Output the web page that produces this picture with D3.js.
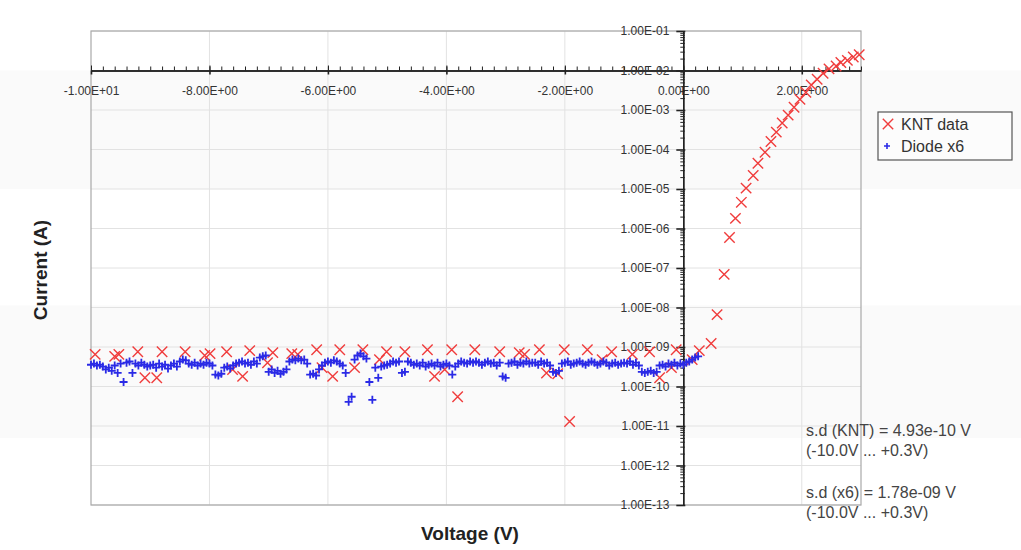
<!DOCTYPE html>
<html>
  <head>
    <meta charset="utf-8">
    <title>KNT I-V</title>
    <style>
    body { margin: 0; background: #fff; }
    svg { display: block; font-family: "Liberation Sans", Arial, sans-serif; }
    .tick text { fill: #333; font-size: 12px; }
    .axis path, .axis line { stroke: #222; }
    .grid line { stroke: #e2e2e2; }
    </style>
  </head>
  <body>
    <svg width="1021" height="550"></svg>
    <script src="https://d3js.org/d3.v7.min.js"></script>
    <script>

      // KNT data (red X)
      var kntV = [-9.93,-9.60,-9.53,-9.21,-9.09,-8.89,-8.80,-8.41,-8.08,-7.99,
        -7.71,-7.61,-7.44,-7.32,-7.02,-6.93,-6.61,-6.51,-6.19,-6.10,
        -5.92,-5.80,-5.55,-5.41,-5.13,-5.01,-4.70,-4.32,-4.20,-4.03,
        -3.91,-3.81,-3.52,-3.10,-2.77,-2.68,-2.43,-2.31,-2.12,-2.01,
        -1.92,-1.62,-1.37,-1.21,-0.86,-0.57,-0.40,-0.20,-0.12,0.15,
        0.27,0.47,0.57,0.69,0.78,0.88,0.98,1.06,1.18,1.26,
        1.38,1.48,1.57,1.67,1.77,1.87,1.97,2.07,2.16,2.26,
        2.36,2.46,2.58,2.66,2.77,2.87,2.97];
      var kntI = [6.5e-10,5.8e-10,6.5e-10,7.6e-10,1.66e-10,1.66e-10,7.6e-10,7.6e-10,6.1e-10,6.8e-10,
        7.6e-10,2.7e-10,1.8e-10,8.1e-10,4.0e-10,7.2e-10,6.8e-10,6.5e-10,8.5e-10,3.0e-10,
        1.8e-10,8.5e-10,3.0e-10,8.5e-10,4.8e-10,7.6e-10,7.6e-10,8.5e-10,1.8e-10,2.7e-10,
        8.5e-10,5.5e-11,8.5e-10,7.6e-10,7.2e-10,6.5e-10,8.5e-10,2.2e-10,2.1e-10,8.5e-10,
        1.3e-11,8.5e-10,4.8e-10,7.6e-10,6.5e-10,7.6e-10,1.66e-10,3.0e-10,8.5e-10,4.8e-10,
        8.1e-10,1.23e-9,6.6e-9,6.9e-8,5.9e-7,1.8e-6,4.6e-6,1.05e-5,2.2e-5,4.5e-5,
        8.5e-5,1.6e-4,2.75e-4,4.7e-4,7.4e-4,1.17e-3,1.86e-3,2.8e-3,4.3e-3,6.0e-3,
        8.5e-3,1.1e-2,1.3e-2,1.6e-2,1.8e-2,2.2e-2,2.5e-2];

      // Diode x6 (blue +)
      var diodeV = [-10,-9.95,-9.9,-9.85,-9.8,-9.75,-9.7,-9.65,-9.6,-9.55,
        -9.5,-9.45,-9.4,-9.35,-9.3,-9.25,-9.2,-9.15,-9.1,-9.05,
        -9,-8.95,-8.9,-8.85,-8.8,-8.75,-8.7,-8.65,-8.6,-8.55,
        -8.5,-8.45,-8.4,-8.35,-8.3,-8.25,-8.2,-8.15,-8.1,-8.05,
        -8,-7.95,-7.9,-7.85,-7.8,-7.75,-7.7,-7.65,-7.6,-7.55,
        -7.5,-7.45,-7.4,-7.35,-7.3,-7.25,-7.2,-7.15,-7.1,-7.05,
        -7,-6.95,-6.9,-6.85,-6.8,-6.75,-6.7,-6.65,-6.6,-6.55,
        -6.5,-6.45,-6.4,-6.35,-6.3,-6.25,-6.2,-6.15,-6.1,-6.05,
        -6,-5.95,-5.9,-5.85,-5.8,-5.75,-5.7,-5.65,-5.6,-5.55,
        -5.5,-5.45,-5.4,-5.35,-5.3,-5.25,-5.2,-5.15,-5.1,-5.05,
        -5,-4.95,-4.9,-4.85,-4.8,-4.75,-4.7,-4.65,-4.6,-4.55,
        -4.5,-4.45,-4.4,-4.35,-4.3,-4.25,-4.2,-4.15,-4.1,-4.05,
        -4,-3.95,-3.9,-3.85,-3.8,-3.75,-3.7,-3.65,-3.6,-3.55,
        -3.5,-3.45,-3.4,-3.35,-3.3,-3.25,-3.2,-3.15,-3.1,-3.05,
        -3,-2.95,-2.9,-2.85,-2.8,-2.75,-2.7,-2.65,-2.6,-2.55,
        -2.5,-2.45,-2.4,-2.35,-2.3,-2.25,-2.2,-2.15,-2.1,-2.05,
        -2,-1.95,-1.9,-1.85,-1.8,-1.75,-1.7,-1.65,-1.6,-1.55,
        -1.5,-1.45,-1.4,-1.35,-1.3,-1.25,-1.2,-1.15,-1.1,-1.05,
        -1,-0.95,-0.9,-0.85,-0.8,-0.75,-0.7,-0.65,-0.6,-0.55,
        -0.5,-0.45,-0.4,-0.35,-0.3,-0.25,-0.2,-0.15,-0.1,-0.05,
        0,0.05,0.1,0.15,0.2,0.25];
      var diodeI = [3.55e-10,3.8e-10,3.4e-10,3.55e-10,3.2e-10,2.7e-10,3.0e-10,2.5e-10,3.4e-10,2.2e-10,
        3.8e-10,1.3e-10,4.0e-10,4.3e-10,2.2e-10,3.8e-10,3.4e-10,4.0e-10,3.55e-10,3.2e-10,
        3.4e-10,3.55e-10,3.0e-10,3.8e-10,3.2e-10,3.55e-10,2.85e-10,3.4e-10,3.8e-10,3.2e-10,
        4.3e-10,4.8e-10,4.6e-10,3.8e-10,3.55e-10,4.0e-10,3.4e-10,3.8e-10,3.55e-10,4.0e-10,
        3.8e-10,3.4e-10,2.0e-10,1.9e-10,2.1e-10,3.0e-10,3.2e-10,2.85e-10,3.4e-10,3.8e-10,
        4.0e-10,4.3e-10,3.8e-10,4.0e-10,3.55e-10,4.3e-10,3.8e-10,5.4e-10,5.8e-10,6.1e-10,
        2.35e-10,2.7e-10,2.2e-10,2.5e-10,2.1e-10,2.35e-10,2.7e-10,4.3e-10,4.8e-10,4.6e-10,
        5.1e-10,4.6e-10,4.8e-10,3.8e-10,2.0e-10,2.1e-10,1.9e-10,2.7e-10,3.4e-10,4.0e-10,
        4.3e-10,4.0e-10,4.6e-10,4.3e-10,3.8e-10,3.4e-10,2.2e-10,4.1e-11,5.5e-11,4.8e-10,
        6.1e-10,6.8e-10,5.8e-10,5.1e-10,1.3e-10,4.6e-11,3.0e-10,1.66e-10,3.2e-10,3.4e-10,
        3.55e-10,3.8e-10,4.3e-10,4.0e-10,4.3e-10,2.2e-10,2.35e-10,4.3e-10,4.0e-10,3.55e-10,
        3.8e-10,3.4e-10,4.0e-10,3.2e-10,3.55e-10,3.8e-10,3.4e-10,4.0e-10,3.2e-10,3.55e-10,
        3.8e-10,3.4e-10,2.0e-10,3.2e-10,3.8e-10,4.3e-10,4.0e-10,3.8e-10,4.3e-10,4.0e-10,
        4.3e-10,4.0e-10,3.55e-10,4.0e-10,4.3e-10,3.8e-10,4.0e-10,3.4e-10,4.0e-10,1.8e-10,
        1.66e-10,3.8e-10,4.0e-10,4.3e-10,3.55e-10,4.0e-10,3.8e-10,4.3e-10,3.8e-10,4.0e-10,
        4.0e-10,3.55e-10,4.3e-10,3.8e-10,4.0e-10,3.4e-10,2.35e-10,2.2e-10,2.5e-10,3.8e-10,
        4.0e-10,4.3e-10,3.55e-10,3.8e-10,4.0e-10,4.3e-10,3.8e-10,3.55e-10,4.0e-10,4.3e-10,
        4.0e-10,3.55e-10,3.8e-10,4.3e-10,4.0e-10,3.4e-10,3.8e-10,4.0e-10,3.55e-10,3.8e-10,
        4.0e-10,3.8e-10,4.3e-10,3.55e-10,4.0e-10,3.4e-10,2.35e-10,2.2e-10,2.35e-10,2.5e-10,
        2.2e-10,2.35e-10,3.4e-10,3.55e-10,3.2e-10,3.8e-10,3.55e-10,4.0e-10,3.4e-10,3.8e-10,
        3.55e-10,4.0e-10,4.3e-10,4.8e-10,5.4e-10,5.8e-10];

      var xTicks = [-10, -8, -6, -4, -2, 0, 2];
      var yTicks = [1e-13,1e-12,1e-11,1e-10,1e-9,1e-8,1e-7,1e-6,1e-5,1e-4,1e-3,1e-2,1e-1];
      var legendNames = ["KNT data", "Diode x6"];
      var notes = ["s.d (KNT) = 4.93e-10 V", "(-10.0V ... +0.3V)", "s.d (x6) = 1.78e-09 V", "(-10.0V ... +0.3V)"];

      var svg = d3.select("svg"),
          plotL = 91, plotR = 861, plotT = 31, plotB = 505;

      var x = d3.scaleLinear().domain([-10, 3]).range([plotL, plotR]),
          y = d3.scaleLog().domain([1e-13, 1e-1]).range([plotB, plotT]);

      function sci(v) {
        var s = v.toExponential(2).toUpperCase();
        return s.replace(/E([+-])(\d)$/, "E$10$2");
      }

      // very faint horizontal bands behind everything
      svg.append("rect").attr("x", 0).attr("width", 1021)
          .attr("y", y(1e-2)).attr("height", y(1e-5) - y(1e-2)).attr("fill", "#fafafa");
      svg.append("rect").attr("x", 0).attr("width", 1021)
          .attr("y", y(1e-8) - 2).attr("height", y(1e-11) - y(1e-8) + 14).attr("fill", "#fafafa");

      // grid
      var grid = svg.append("g").attr("class", "grid");
      grid.selectAll(".gx").data(xTicks.filter(function(d) { return d !== 0 && d !== -10; }))
        .enter().append("line")
          .attr("x1", function(d) { return x(d); }).attr("x2", function(d) { return x(d); })
          .attr("y1", plotT).attr("y2", plotB);
      grid.selectAll(".gy").data(yTicks)
        .enter().append("line")
          .attr("x1", plotL).attr("x2", plotR)
          .attr("y1", function(d) { return y(d); }).attr("y2", function(d) { return y(d); });

      svg.append("rect")
          .attr("x", plotL).attr("y", plotT)
          .attr("width", plotR - plotL).attr("height", plotB - plotT)
          .attr("fill", "none").attr("stroke", "#a9a9a9").attr("stroke-width", 1.2);

      // x axis at 1E-02
      var minorX = d3.range(-10, 3.001, 0.2);
      svg.append("g").attr("class", "axis")
          .attr("transform", "translate(0," + y(1e-2) + ")")
          .call(d3.axisTop(x).tickValues(minorX).tickSize(4).tickSizeOuter(0).tickFormat(""));
      svg.append("g").attr("class", "axis")
          .attr("transform", "translate(0," + y(1e-2) + ")")
          .call(d3.axisTop(x).tickValues(xTicks).tickSize(5).tickSizeOuter(0).tickFormat(""));
      var gx = svg.append("g").attr("class", "axis")
          .attr("transform", "translate(0," + y(1e-2) + ")")
          .call(d3.axisBottom(x).tickValues(xTicks).tickSize(4).tickPadding(12).tickSizeOuter(0).tickFormat(sci));
      gx.selectAll(".domain").attr("stroke-width", 1.6);
      gx.selectAll("line").attr("stroke-width", 1.6);

      // y axis at 0 V
      var minorY = [];
      yTicks.forEach(function(d) { if (d < 1e-1) for (var k = 2; k < 10; k++) minorY.push(d * k); });
      svg.append("g").attr("class", "axis")
          .attr("transform", "translate(" + x(0) + ",0)")
          .call(d3.axisLeft(y).tickValues(minorY).tickSize(3).tickSizeOuter(0).tickFormat(""))
          .selectAll(".tick line").attr("x2", 1.5).attr("x1", -3);
      var gy = svg.append("g").attr("class", "axis")
          .attr("transform", "translate(" + x(0) + ",0)")
          .call(d3.axisLeft(y).tickValues(yTicks).tickSize(7).tickPadding(7).tickSizeOuter(0).tickFormat(sci));
      gy.selectAll(".domain").attr("stroke-width", 1.6);
      gy.selectAll("line").attr("stroke-width", 1.6).attr("x2", 2).attr("x1", -7);

      // markers
      var crossPath = "M-5.2,-5.2L5.2,5.2M5.2,-5.2L-5.2,5.2",
          plusPath = "M-4,0H4M0,-4V4",
          red = "#f03c3c", blue = "#2a2ae6";

      svg.append("g").selectAll("path")
        .data(kntV)
        .enter().append("path")
          .attr("d", crossPath)
          .attr("transform", function(d, i) { return "translate(" + x(d) + "," + y(kntI[i]) + ")"; })
          .attr("stroke", red).attr("stroke-width", 1.4).attr("fill", "none");

      svg.append("g").selectAll("path")
        .data(diodeV)
        .enter().append("path")
          .attr("d", plusPath)
          .attr("transform", function(d, i) { return "translate(" + x(d) + "," + y(diodeI[i]) + ")"; })
          .attr("stroke", blue).attr("stroke-width", 1.8).attr("fill", "none");

      // legend
      var lg = svg.append("g").attr("transform", "translate(878,112)");
      lg.append("rect").attr("width", 134).attr("height", 48)
          .attr("fill", "#fcfcfc").attr("stroke", "#555").attr("stroke-width", 1.2);
      lg.append("path").attr("d", crossPath).attr("transform", "translate(10,12)")
          .attr("stroke", red).attr("stroke-width", 1.4).attr("fill", "none");
      lg.append("path").attr("d", "M-3,0H3M0,-3V3").attr("transform", "translate(9,34)")
          .attr("stroke", blue).attr("stroke-width", 1.6).attr("fill", "none");
      lg.selectAll("text").data(legendNames)
        .enter().append("text")
          .attr("x", 23).attr("y", function(d, i) { return 12 + i * 22; })
          .attr("dy", "0.35em").attr("font-size", 16).attr("fill", "#333")
          .text(function(d) { return d; });

      // notes
      svg.append("g").selectAll("text").data(notes)
        .enter().append("text")
          .attr("x", 806)
          .attr("y", function(d, i) { return [436, 456, 498, 518][i]; })
          .attr("font-size", 16).attr("fill", "#444")
          .text(function(d) { return d; });

      // axis titles
      svg.append("text")
          .attr("x", 470).attr("y", 540)
          .attr("text-anchor", "middle").attr("font-size", 19).attr("font-weight", "bold").attr("fill", "#222")
          .text("Voltage (V)");
      svg.append("text")
          .attr("transform", "translate(47,270) rotate(-90)")
          .attr("text-anchor", "middle").attr("font-size", 19).attr("font-weight", "bold").attr("fill", "#222")
          .text("Current (A)");
    </script>
  </body>
</html>
